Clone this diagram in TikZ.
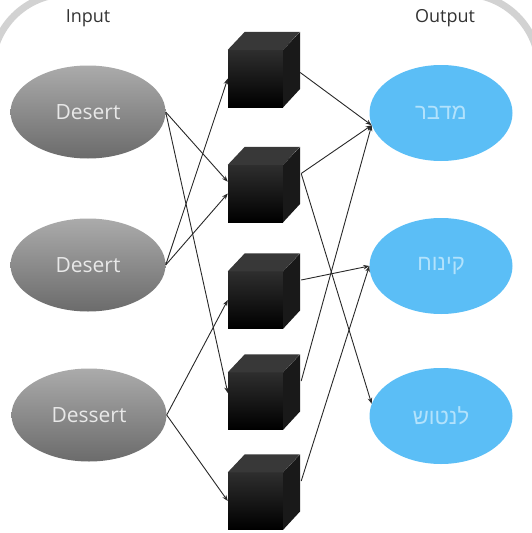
\documentclass[tikz,border=0pt]{standalone}
\usepackage{fontspec}
\setmainfont{Open Sans}
\newfontfamily\hebfont[Script=Hebrew]{Liberation Sans}
\TeXXeTstate=1
\usetikzlibrary{arrows.meta,shapes.geometric}
\definecolor{outblue}{RGB}{91,190,246}
\definecolor{hebtext}{RGB}{178,226,252}
\definecolor{wordgray}{RGB}{232,232,232}
\definecolor{linegray}{RGB}{40,40,40}
\tikzstyle{arrow} = [-{Stealth[length=6pt,width=4.5pt]}, line width=0.9pt, linegray]
\tikzstyle{heading} = [font=\fontsize{18}{20}\selectfont, text=black!80]
\tikzstyle{word} = [ellipse, minimum width=155pt, minimum height=93pt, inner sep=0pt, top color=black!33, bottom color=black!58, text=wordgray, font=\fontsize{21}{24}\selectfont]
\tikzstyle{meaning} = [ellipse, minimum width=143pt, minimum height=96pt, inner sep=0pt, fill=outblue, text=hebtext, font=\fontsize{22}{24}\selectfont\hebfont]
\tikzstyle{cubebox} = [rectangle, minimum width=55pt, minimum height=57pt, inner sep=0pt, top color=black!82, bottom color=black]

\begin{document}
\begin{tikzpicture}[x=1pt,y=-1pt]
    \useasboundingbox (0,0) rectangle (531,533);
    \draw[gray!35, line width=7pt, rounded corners=75pt] (-8,-6) rectangle (539,640);

    \node[heading] at (88,18) (inlabel) {Input};
    \node[heading] at (445,18) (outlabel) {Output};

    \node[word] at (88,112) (in1) {Desert};
    \node[word] at (88,265) (in2) {Desert};
    \node[word] at (89,415) (in3) {Dessert};

    \node[meaning] at (441,113) (out1) {\beginR מדבר\endR};
    \node[meaning] at (441,266) (out2) {\beginR קינוח\endR};
    \node[meaning] at (441,416) (out3) {\beginR לנטוש\endR};

    \node[cubebox] at (255.5,78.5) (c1) {};
    \node[cubebox] at (255.5,193.5) (c2) {};
    \node[cubebox] at (255.5,300) (c3) {};
    \node[cubebox] at (255.5,401) (c4) {};
    \node[cubebox] at (255.5,501) (c5) {};
    \foreach \c in {c1,c2,c3,c4,c5} {
        \fill[black!78] (\c.north west) -- ++(17,-18) -- ++(55,0) -- (\c.north east) -- cycle;
        \fill[black!90] (\c.north east) -- ++(17,-18) -- ++(0,57) -- (\c.south east) -- cycle;
    }

    \draw[arrow] (in1.east) -- (c2.157);
    \draw[arrow] (in1.east) -- (c4.164);
    \draw[arrow] (in2.east) -- (c1.west);
    \draw[arrow] (in2.east) -- (c2.west);
    \draw[arrow] (in3.east) -- (c3.west);
    \draw[arrow] (in3.east) -- (c5.west);
    \draw[arrow] ([shift={(17,-6)}]c1.east) -- (out1.190);
    \draw[arrow] ([shift={(18,-20)}]c2.east) -- (out1.190);
    \draw[arrow] ([shift={(18,-20)}]c2.east) -- (out3.170);
    \draw[arrow] ([shift={(18,-20)}]c3.east) -- (out2.west);
    \draw[arrow] ([shift={(18,-20)}]c4.east) -- (out1.190);
    \draw[arrow] ([shift={(18,-20)}]c5.east) -- (out2.west);
\end{tikzpicture}
\end{document}
